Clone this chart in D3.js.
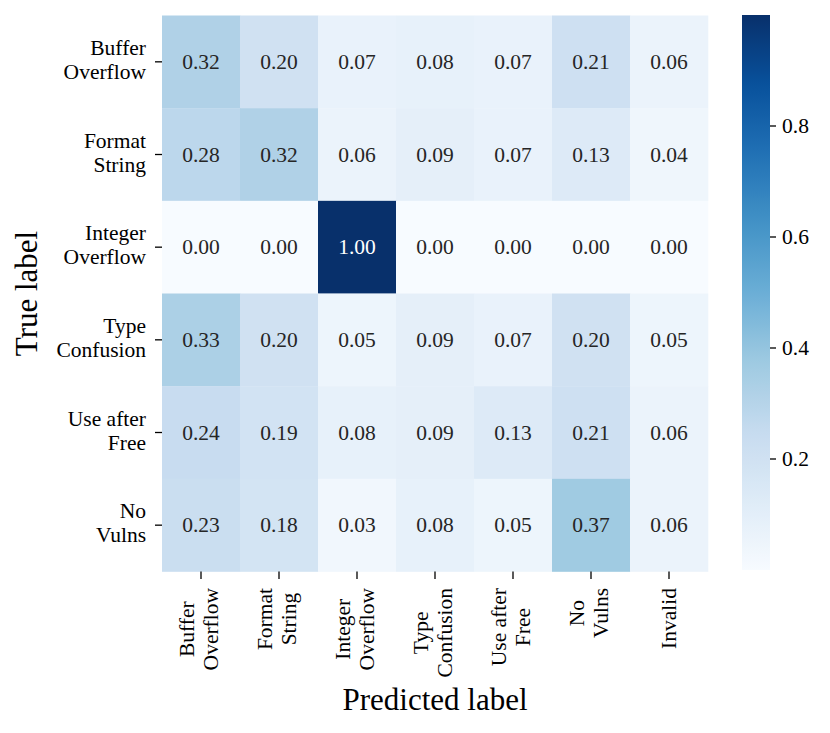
<!DOCTYPE html>
<html>
<head>
<meta charset="utf-8">
<script src="https://cdn.jsdelivr.net/npm/d3@7"></script>
<style>
  body { margin: 0; background: #fff; }
  text { font-family: "Liberation Serif", "Times New Roman", serif; }
</style>
</head>
<body>
<div id="chart"></div>
<script>
// categories (\n splits a label into lines)
var trueLabels = ["Buffer\nOverflow", "Format\nString", "Integer\nOverflow", "Type\nConfusion", "Use after\nFree", "No\nVulns"];
var predLabels = ["Buffer\nOverflow", "Format\nString", "Integer\nOverflow", "Type\nConfusion", "Use after\nFree", "No\nVulns", "Invalid"];

// one row of values per true label
var rowBuffer   = [0.32, 0.20, 0.07, 0.08, 0.07, 0.21, 0.06];
var rowFormat   = [0.28, 0.32, 0.06, 0.09, 0.07, 0.13, 0.04];
var rowInteger  = [0.00, 0.00, 1.00, 0.00, 0.00, 0.00, 0.00];
var rowType     = [0.33, 0.20, 0.05, 0.09, 0.07, 0.20, 0.05];
var rowUseAfter = [0.24, 0.19, 0.08, 0.09, 0.13, 0.21, 0.06];
var rowNoVulns  = [0.23, 0.18, 0.03, 0.08, 0.05, 0.37, 0.06];
var matrix = [rowBuffer, rowFormat, rowInteger, rowType, rowUseAfter, rowNoVulns];

var cbarTicks = [0.2, 0.4, 0.6, 0.8];

// matplotlib "Blues" (linear between the 9 colorbrewer anchors)
var bluesAnchors = ["#f7fbff", "#deebf7", "#c6dbef", "#9ecae1", "#6baed6", "#4292c6", "#2171b5", "#08519c", "#08306b"];

var tickFont = 21.5;

var svg = d3.select("#chart").append("svg")
  .attr("width", 830)
  .attr("height", 733);

var x = d3.scaleBand().domain(d3.range(predLabels.length)).range([162, 708]);
var y = d3.scaleBand().domain(d3.range(trueLabels.length)).range([15.5, 571.5]);

var color = d3.scaleLinear()
  .domain(bluesAnchors.map(function(d, i) { return i / (bluesAnchors.length - 1); }))
  .range(bluesAnchors)
  .interpolate(d3.interpolateRgb)
  .clamp(true);

var cells = [];
matrix.forEach(function(row, r) {
  row.forEach(function(v, c) { cells.push({r: r, c: c, v: v}); });
});

var g = svg.append("g");

g.selectAll("rect.cell")
  .data(cells)
  .enter().append("rect")
  .attr("class", "cell")
  .attr("x", function(d) { return x(d.c); })
  .attr("y", function(d) { return y(d.r); })
  .attr("width", x.bandwidth() + 0.3)
  .attr("height", y.bandwidth() + 0.3)
  .attr("fill", function(d) { return color(d.v); });

g.selectAll("text.val")
  .data(cells)
  .enter().append("text")
  .attr("class", "val")
  .attr("x", function(d) { return x(d.c) + x.bandwidth() / 2; })
  .attr("y", function(d) { return y(d.r) + y.bandwidth() / 2 + 7; })
  .attr("text-anchor", "middle")
  .attr("font-size", tickFont)
  .attr("fill", function(d) {
    var c = d3.hsl(color(d.v));
    return c.l < 0.5 ? "#ffffff" : "#262626";
  })
  .text(function(d) { return d.v.toFixed(2); });

// baseline of line k in an n-line label, relative to the tick
var lineGap = 24;
function lineY(n, k) { return 7 - (n - 1) * 14 + k * lineGap; }

// y axis ticks + labels
var yTicks = g.selectAll("g.ytick")
  .data(trueLabels)
  .enter().append("g")
  .attr("class", "ytick")
  .attr("transform", function(d, i) { return "translate(0," + (y(i) + y.bandwidth() / 2) + ")"; });

yTicks.append("line")
  .attr("x1", 155).attr("x2", 162)
  .attr("stroke", "#000").attr("stroke-width", 1.3);

yTicks.each(function(d) {
  var lines = d.split("\n");
  var t = d3.select(this).append("text")
    .attr("text-anchor", "end")
    .attr("font-size", tickFont)
    .attr("fill", "#000");
  lines.forEach(function(s, k) {
    t.append("tspan")
      .attr("x", 146)
      .attr("y", lineY(lines.length, k))
      .text(s);
  });
});

// x axis ticks + rotated labels, lines centred on each other
var xTicks = g.selectAll("g.xtick")
  .data(predLabels)
  .enter().append("g")
  .attr("class", "xtick")
  .attr("transform", function(d, i) { return "translate(" + (x(i) + x.bandwidth() / 2) + ",0)"; });

xTicks.append("line")
  .attr("y1", 571.5).attr("y2", 579)
  .attr("stroke", "#000").attr("stroke-width", 1.3);

xTicks.each(function(d) {
  var lines = d.split("\n");
  var t = d3.select(this).append("text")
    .attr("text-anchor", "middle")
    .attr("font-size", tickFont)
    .attr("fill", "#000");
  var spans = lines.map(function(s, k) {
    return t.append("tspan")
      .attr("x", 0)
      .attr("y", lineY(lines.length, k))
      .text(s);
  });
  var w = d3.max(spans, function(s) { return s.node().getComputedTextLength(); });
  t.attr("transform", "translate(0," + (588 + w / 2) + ") rotate(-90)");
});

// axis titles
svg.append("text")
  .attr("x", 435)
  .attr("y", 710)
  .attr("text-anchor", "middle")
  .attr("font-size", 31)
  .text("Predicted label");

svg.append("text")
  .attr("transform", "translate(37," + (15.5 + 571.5) / 2 + ") rotate(-90)")
  .attr("text-anchor", "middle")
  .attr("font-size", 31)
  .text("True label");

// colorbar
var cb = d3.scaleLinear().domain([0, 1]).range([570, 15]);
var grad = svg.append("defs").append("linearGradient")
  .attr("id", "cbgrad")
  .attr("x1", 0).attr("y1", 1).attr("x2", 0).attr("y2", 0);
d3.range(0, 1.0001, 0.02).forEach(function(t) {
  grad.append("stop").attr("offset", t).attr("stop-color", color(t));
});

svg.append("rect")
  .attr("x", 742)
  .attr("y", cb(1))
  .attr("width", 28)
  .attr("height", cb(0) - cb(1))
  .attr("fill", "url(#cbgrad)");

var cbAxis = svg.append("g").attr("transform", "translate(770,0)");
var cbt = cbAxis.selectAll("g")
  .data(cbarTicks)
  .enter().append("g")
  .attr("transform", function(d) { return "translate(0," + cb(d) + ")"; });
cbt.append("line").attr("x1", 0).attr("x2", 6).attr("stroke", "#000").attr("stroke-width", 1.3);
cbt.append("text")
  .attr("x", 12)
  .attr("y", 7)
  .attr("font-size", tickFont)
  .text(function(d) { return d.toFixed(1); });
</script>
</body>
</html>
